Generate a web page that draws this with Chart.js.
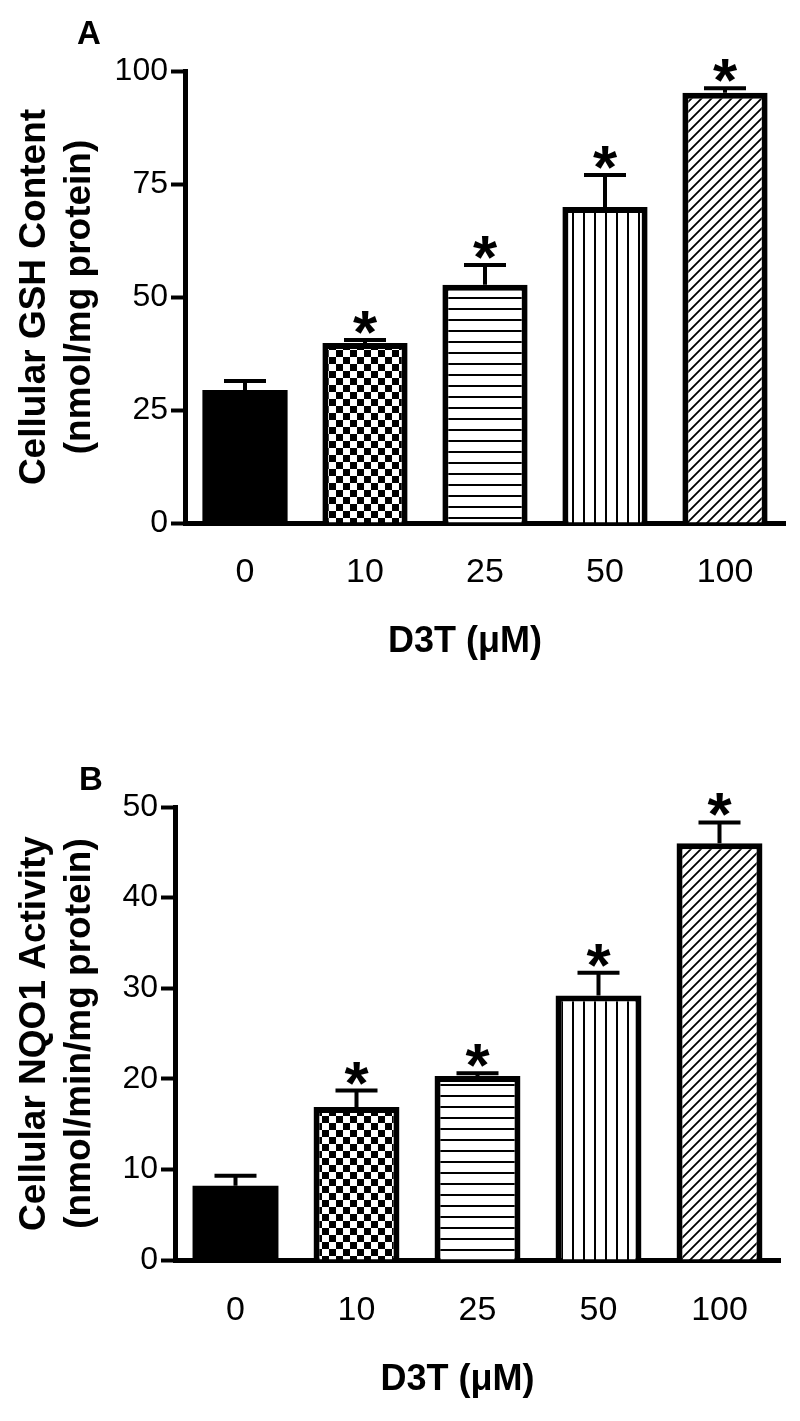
<!DOCTYPE html>
<html>
<head>
<meta charset="utf-8">
<script src="https://cdn.jsdelivr.net/npm/chart.js@4.4.1/dist/chart.umd.min.js"></script>
<style>
html,body{margin:0;padding:0;background:#fff;}
canvas{display:block;}
</style>
</head>
<body>
<canvas id="chartA" width="800" height="710"></canvas>
<canvas id="chartB" width="800" height="711"></canvas>
<script>
const doses=['0','10','25','50','100'];

const gshMean=[29.4,39.8,52.7,69.9,95.2];
const gshSem=[2.0,0.7,4.4,7.1,1.0];
const gshSig=[false,true,true,true,true];
const gshTicks=[0,25,50,75,100];

const nqoMean=[8.2,16.9,20.3,29.2,46.0];
const nqoSem=[1.1,1.8,0.3,2.5,2.3];
const nqoSig=[false,true,true,true,true];
const nqoTicks=[0,10,20,30,40,50];

const FONT='"Liberation Sans", Arial, Helvetica, sans-serif';

// fill patterns like the old GraphPad bars
const makePattern=(w,h,draw)=>{
    const c=document.createElement('canvas');
    c.width=w;c.height=h;
    const g=c.getContext('2d');
    g.fillStyle='#fff';
    g.fillRect(0,0,w,h);
    g.fillStyle='#000';
    g.strokeStyle='#000';
    draw(g);
    return g.createPattern(c,'repeat');
};

const fills=[
    '#000',
    makePattern(14,14,g=>{g.fillRect(0,0,7,7);g.fillRect(7,7,7,7);}),
    makePattern(11,11,g=>{g.fillRect(0,0,11,2);}),
    makePattern(11,11,g=>{g.fillRect(0,0,2,11);}),
    makePattern(10,10,g=>{
        g.lineWidth=1.8;
        g.beginPath();
        g.moveTo(0,10);g.lineTo(10,0);
        g.moveTo(-1,1);g.lineTo(1,-1);
        g.moveTo(9,11);g.lineTo(11,9);
        g.stroke();
    })
];

const errorPlugin=(means,sems,sig,letter)=>({
    id:'errorBars',
    afterDatasetsDraw(chart){
        const ctx=chart.ctx;
        const y=chart.scales.y;
        const bars=chart.getDatasetMeta(0).data;
        ctx.save();
        ctx.strokeStyle='#000';
        ctx.fillStyle='#000';
        ctx.lineWidth=4;
        bars.forEach((bar,i)=>{
            const top=y.getPixelForValue(means[i]+sems[i]);
            ctx.beginPath();
            ctx.moveTo(bar.x,bar.y);
            ctx.lineTo(bar.x,top);
            ctx.moveTo(bar.x-21,top);
            ctx.lineTo(bar.x+21,top);
            ctx.stroke();
            if(sig[i]){
                ctx.font='bold 62px '+FONT;
                ctx.textAlign='center';
                ctx.textBaseline='alphabetic';
                ctx.fillText('*',bar.x,top-23+0.58*62);
            }
        });
        ctx.font='bold 33px '+FONT;
        ctx.textAlign='center';
        ctx.textBaseline='middle';
        ctx.fillText(letter.text,letter.x,letter.y);
        ctx.restore();
    }
});

const makeChart=(id,means,sems,sig,ticks,yTitle,letter,box)=>{
    const ctx=document.getElementById(id).getContext('2d');
    return new Chart(ctx,{
        type:'bar',
        data:{
            labels:doses,
            datasets:[{
                data:means,
                backgroundColor:fills,
                borderColor:'#000',
                borderWidth:[0,6,6,6,6],
                barPercentage:0.71,
                categoryPercentage:1
            }]
        },
        options:{
            responsive:false,
            animation:false,
            layout:{padding:{top:box.top,right:800-box.right,left:0,bottom:0}},
            plugins:{legend:{display:false},tooltip:{enabled:false}},
            scales:{
                x:{
                    offset:true,
                    z:1,
                    ticks:{color:'#000',font:{family:FONT,size:34},padding:box.tickPad},
                    grid:{display:false,drawTicks:false},
                    border:{display:true,color:'#000',width:5},
                    title:{display:true,text:'D3T (\u03bcM)    ',color:'#000',
                        font:{family:FONT,size:36,weight:'bold'},padding:{top:0,bottom:box.titlePad}},
                    afterFit:s=>{s.height=box.canvasH-box.bottom;}
                },
                y:{
                    min:0,
                    max:ticks[ticks.length-1],
                    afterBuildTicks:s=>{s.ticks=ticks.map(v=>({value:v}));},
                    ticks:{color:'#000',font:{family:FONT,size:32},padding:3},
                    grid:{drawOnChartArea:false,drawTicks:true,tickLength:14,tickWidth:4,tickColor:'#000'},
                    border:{display:true,color:'#000',width:5},
                    title:{display:true,text:yTitle,color:'#000',
                        font:{family:FONT,size:37,weight:'bold'},padding:{top:13,bottom:0}},
                    afterFit:s=>{s.width=box.left;}
                }
            }
        },
        plugins:[errorPlugin(means,sems,sig,letter)]
    });
};

makeChart('chartA',gshMean,gshSem,gshSig,gshTicks,
    ['Cellular GSH Content','(nmol/mg protein)'],
    {text:'A',x:89,y:35},
    {top:71,bottom:523,left:185,right:785,canvasH:710,tickPad:29,titlePad:46});

makeChart('chartB',nqoMean,nqoSem,nqoSig,nqoTicks,
    ['Cellular NQO1 Activity','(nmol/min/mg protein)'],
    {text:'B',x:91,y:71},
    {top:97,bottom:550,left:175,right:780,canvasH:711,tickPad:30,titlePad:19});
</script>
</body>
</html>
